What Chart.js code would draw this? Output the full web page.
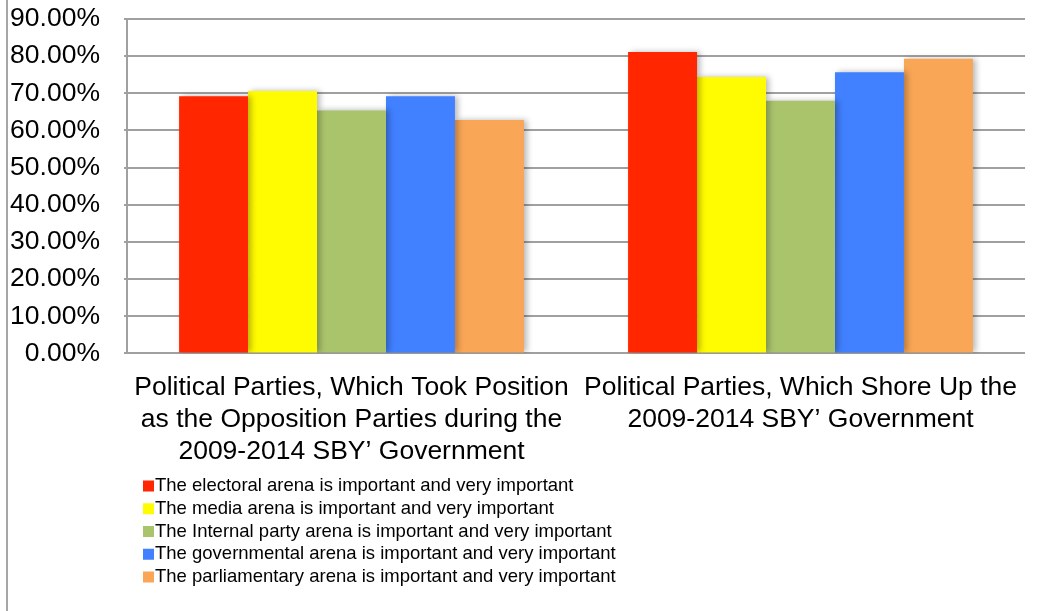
<!DOCTYPE html>
<html>
<head>
<meta charset="utf-8">
<script src="https://cdn.jsdelivr.net/npm/chart.js@4/dist/chart.umd.min.js"></script>
<style>
  html, body { margin: 0; padding: 0; background: #fff; }
  #frame {
    position: absolute; left: 6px; top: 0;
    width: 1049px; height: 611px;
    border-left: 2px solid #a6a6a6;
  }
  #wrap { position: absolute; left: 0; top: 0; width: 1049px; height: 611px; }
</style>
</head>
<body>
<div id="frame"><div id="wrap"><canvas id="myChart"></canvas></div></div>
<script>
// categories (multi-line axis labels)
const categories = [
  ['Political Parties, Which Took Position', 'as the Opposition Parties during the', '2009-2014 SBY\u2019 Government'],
  ['Political Parties, Which Shore Up the', '2009-2014 SBY\u2019 Government']
];

// series names
const seriesNames = [
  'The electoral arena is important and very important',
  'The media arena is important and very important',
  'The Internal party arena is important and very important',
  'The governmental arena is important and very important',
  'The parliamentary arena is important and very important'
];

// values in percent, one per category
const electoral = [69.2, 81.1];
const media = [70.6, 74.4];
const internalParty = [65.4, 68.0];
const governmental = [69.2, 75.7];
const parliamentary = [62.8, 79.3];

// y axis ticks
const yTicks = [0, 10, 20, 30, 40, 50, 60, 70, 80, 90];

const colors = ['#ff2600', '#fffb00', '#aac46c', '#4180ff', '#f9a656'];
const seriesValues = [electoral, media, internalParty, governmental, parliamentary];

const FONT = '"Liberation Sans", Arial, Helvetica, sans-serif';

// soft shadow behind the bars
const barShadow = {
  id: 'barShadow',
  beforeDatasetsDraw(chart) {
    const ctx = chart.ctx;
    ctx.save();
    ctx.shadowColor = 'rgba(0, 0, 0, 0.28)';
    ctx.shadowBlur = 6;
    ctx.shadowOffsetX = 3;
    ctx.shadowOffsetY = 0;
  },
  afterDatasetsDraw(chart) {
    chart.ctx.restore();
  }
};

// stacked legend at the bottom of the canvas
const blockLegend = {
  id: 'blockLegend',
  afterDraw(chart) {
    const ctx = chart.ctx;
    const x0 = chart.scales.x.left + 16;
    const y0 = chart.height - 125;
    const rowH = 22.75;
    ctx.save();
    ctx.font = '18.5px ' + FONT;
    ctx.textBaseline = 'middle';
    ctx.textAlign = 'left';
    chart.data.datasets.forEach(function (ds, i) {
      const y = y0 + i * rowH;
      ctx.fillStyle = ds.backgroundColor;
      ctx.fillRect(x0, y - 5.5, 11, 11);
      ctx.fillStyle = '#000';
      ctx.fillText(ds.label, x0 + 12, y);
    });
    ctx.restore();
  }
};

const data = {
  labels: categories,
  datasets: seriesNames.map(function (name, i) {
    return {
      label: name,
      data: seriesValues[i],
      backgroundColor: colors[i],
      borderWidth: 0
    };
  })
};

const config = {
  type: 'bar',
  data: data,
  plugins: [barShadow, blockLegend],
  options: {
    responsive: true,
    maintainAspectRatio: false,
    animation: false,
    layout: {
      padding: { top: 19, right: 32, bottom: 125, left: 0 }
    },
    datasets: {
      bar: { barPercentage: 1.0, categoryPercentage: 0.768 }
    },
    plugins: {
      legend: { display: false },
      tooltip: { enabled: false }
    },
    scales: {
      x: {
        grid: { display: false, drawTicks: false },
        border: { display: false },
        ticks: {
          color: '#000',
          padding: 19,
          maxRotation: 0,
          autoSkip: false,
          font: { family: FONT, size: 26.5, lineHeight: 1.19 }
        }
      },
      y: {
        min: 0,
        max: 90,
        afterFit: function (scale) {
          scale.width = 119;
          scale.paddingTop = 0;
          scale.paddingBottom = 0;
        },
        afterBuildTicks: function (scale) {
          scale.ticks = yTicks.map(function (v) { return { value: v }; });
        },
        grid: { color: '#a0a0a0', lineWidth: 2, tickLength: 3 },
        border: { display: true, color: '#a0a0a0', width: 2 },
        ticks: {
          color: '#000',
          padding: 24,
          autoSkip: false,
          font: { family: FONT, size: 26.5 },
          callback: function (value) { return value.toFixed(2) + '%'; }
        }
      }
    }
  }
};

var myChart = new Chart(
  document.getElementById('myChart'),
  config
);
</script>
</body>
</html>
